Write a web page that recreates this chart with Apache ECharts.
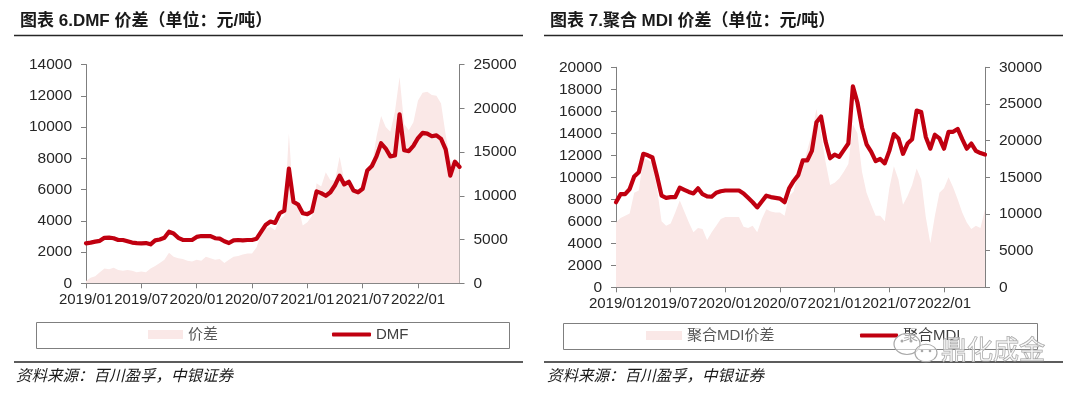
<!DOCTYPE html>
<html>
<head>
<meta charset="utf-8">
<script src="https://cdn.jsdelivr.net/npm/echarts@6/dist/echarts.min.js"></script>
<style>
  html, body { margin: 0; padding: 0; background: #ffffff; }
  #chart { width: 1080px; height: 393px; }
</style>
</head>
<body>
<div id="chart"></div>
<script>
var dates = [
  "2019/01/01","2019/01/15","2019/02/01","2019/02/15","2019/03/01","2019/03/15","2019/04/01","2019/04/15","2019/05/01","2019/05/15","2019/06/01","2019/06/15",
  "2019/07/01","2019/07/15","2019/08/01","2019/08/15","2019/09/01","2019/09/15","2019/10/01","2019/10/15","2019/11/01","2019/11/15","2019/12/01","2019/12/15",
  "2020/01/01","2020/01/15","2020/02/01","2020/02/15","2020/03/01","2020/03/15","2020/04/01","2020/04/15","2020/05/01","2020/05/15","2020/06/01","2020/06/15",
  "2020/07/01","2020/07/15","2020/08/01","2020/08/15","2020/09/01","2020/09/15","2020/10/01","2020/10/15","2020/11/01","2020/11/15","2020/12/01","2020/12/15",
  "2021/01/01","2021/01/15","2021/02/01","2021/02/15","2021/03/01","2021/03/15","2021/04/01","2021/04/15","2021/05/01","2021/05/15","2021/06/01","2021/06/15",
  "2021/07/01","2021/07/15","2021/08/01","2021/08/15","2021/09/01","2021/09/15","2021/10/01","2021/10/15","2021/11/01","2021/11/15","2021/12/01","2021/12/15",
  "2022/01/01","2022/01/15","2022/02/01","2022/02/15","2022/03/01","2022/03/15","2022/04/01","2022/04/15","2022/05/01","2022/05/15"
];

// Chart 6: DMF spread (left axis) and DMF price (right axis)
var dmfSpread = [
  150, 350, 450, 700, 950, 900, 1000, 850, 800, 850, 800, 700,
  750, 700, 950, 1100, 1300, 1500, 1950, 1700, 1600, 1550, 1450, 1400,
  1500, 1450, 1700, 1600, 1500, 1550, 1300, 1500, 1700, 1750, 1850, 1900,
  1900, 2300, 3200, 3500, 3600, 3400, 4100, 4300, 9600, 5100, 5000, 3700,
  3900, 4300, 6400, 6200, 7100, 6600, 6600, 8100, 6600, 6500, 5900, 5950,
  6000, 7400, 7500, 9400, 10700, 10000, 9700, 11000, 13200, 10200, 9800, 10300,
  11700, 12200, 12250, 12050, 12000, 11500, 9500, 7900, 7500, 7450
];
var dmfPrice = [
  4570, 4650, 4760, 4850, 5200, 5220, 5150, 4950, 4950, 4800, 4650, 4600,
  4570, 4600, 4450, 4900, 5000, 5200, 5900, 5700, 5200, 4950, 4950, 4950,
  5300, 5400, 5400, 5400, 5150, 5100, 4800, 4600, 4900, 4950, 4900, 4950,
  4950, 5100, 5900, 6700, 7050, 6900, 8000, 8300, 13100, 9300, 9000, 8000,
  7900, 8200, 10500, 10300, 10000, 10400, 11200, 12300, 11300, 11600, 10600, 10400,
  10800, 12900, 13400, 14500, 16000, 15400, 14500, 14600, 19300, 15200, 15100, 15700,
  16600, 17200, 17100, 16800, 16900, 16500, 15300, 12300, 13900, 13300
];

// Chart 7: polymeric MDI spread (left axis) and price (right axis)
var mdiSpread = [
  5900, 6300, 6500, 6700, 8600, 8800, 11700, 11600, 11300, 9000, 6000, 5600,
  5800, 6800, 7900, 6900, 5900, 5000, 5400, 5300, 4300, 5000, 5600, 6200,
  6400, 6400, 6400, 6400, 5500, 5400, 5600, 5000, 6200, 7100, 6900, 6800,
  6800, 6500, 8300, 8700, 10500, 11000, 12500, 14000, 16200, 14000, 11400, 9300,
  9500, 9900, 10500, 11200, 14800, 14000, 10500, 8600, 7500, 6500, 6500, 6000,
  9000, 11000, 9800, 7500, 8300, 9300, 10800, 9800, 6400, 4000, 6500, 8600,
  9000, 10000, 9100, 8000, 6800, 5900, 5300, 5600, 5400, 7100
];
var mdiPrice = [
  11600, 12700, 12700, 13400, 15100, 15700, 18200, 18000, 17700, 15200, 12500, 12200,
  12300, 12300, 13600, 13300, 13000, 12800, 13500, 12700, 12400, 12350, 12900, 13100,
  13200, 13200, 13200, 13200, 12800, 12200, 11600, 10900, 11700, 12500, 12300, 12200,
  12100, 11600, 13500, 14500, 15300, 17300, 17300, 18600, 22500, 23300, 19900, 17600,
  18100, 17800, 18700, 19600, 27400, 25200, 21800, 19500, 18500, 17200, 17500, 16900,
  18600, 20900, 20300, 18200, 19600, 20200, 24100, 23900, 20500, 18900, 20800, 20300,
  18900, 21200, 21200, 21600, 20200, 18900, 19600, 18600, 18300, 18100
];

var titles = ["图表 6.DMF 价差（单位：元/吨）", "图表 7.聚合 MDI 价差（单位：元/吨）"];
var legendNames = ["价差", "DMF", "聚合MDI价差", "聚合MDI"];
var sourceText = "资料来源：百川盈孚，中银证券";

// ---- styling ----
var LINE_RED = "#C00010";
var AREA_PINK = "#FAE8E7";
var AXIS_GRAY = "#7f7f7f";
var LABEL_COLOR = "#262626";
var FONT_LATIN = "'Liberation Sans', Arial, 'Noto Sans CJK SC', sans-serif";

function showTick(index, value) {
  return value.slice(5) === "01/01" || value.slice(5) === "07/01";
}

function makeX(gridIndex) {
  return {
    gridIndex: gridIndex,
    type: "category",
    data: dates,
    boundaryGap: false,
    axisLine: { show: true, lineStyle: { color: AXIS_GRAY, width: 1 } },
    axisTick: { show: true, interval: showTick, length: 5, lineStyle: { color: AXIS_GRAY } },
    axisLabel: {
      interval: showTick,
      showMinLabel: true,
      hideOverlap: false,
      formatter: function (v) { return v.slice(0, 7); },
      color: LABEL_COLOR, fontSize: 15, fontFamily: FONT_LATIN, margin: 9
    },
    splitLine: { show: false }
  };
}

function makeY(gridIndex, position, max, interval) {
  return {
    gridIndex: gridIndex,
    type: "value",
    position: position,
    min: 0, max: max, interval: interval,
    axisLine: { show: true, lineStyle: { color: AXIS_GRAY, width: 1 } },
    axisTick: { show: true, length: 5, lineStyle: { color: AXIS_GRAY } },
    axisLabel: {
      color: LABEL_COLOR, fontSize: 15.5, fontFamily: FONT_LATIN, margin: 14,
      formatter: function (v) { return String(v); }
    },
    splitLine: { show: false }
  };
}

function areaSeries(name, xi, yi, data) {
  return {
    name: name, type: "line", xAxisIndex: xi, yAxisIndex: yi, data: data,
    symbol: "none", showSymbol: false, silent: true,
    lineStyle: { width: 0, opacity: 0 },
    itemStyle: { color: AREA_PINK },
    areaStyle: { color: AREA_PINK, opacity: 1 },
    z: 1, animation: false
  };
}

function lineSeries(name, xi, yi, data) {
  return {
    name: name, type: "line", xAxisIndex: xi, yAxisIndex: yi, data: data,
    symbol: "none", showSymbol: false, silent: true,
    lineStyle: { width: 4.2, color: LINE_RED, join: "round", cap: "round" },
    itemStyle: { color: LINE_RED },
    z: 3, animation: false
  };
}

function legendItem(name, icon, left, top, w, h, color) {
  return {
    data: [{ name: name, icon: icon }],
    left: left, top: top, padding: 0,
    itemWidth: w, itemHeight: h, itemGap: 5,
    selectedMode: false,
    textStyle: { fontSize: 15, color: color, fontFamily: FONT_LATIN }
  };
}

var chart = echarts.init(document.getElementById("chart"), null, { renderer: "canvas" });

var option = {
  backgroundColor: "#ffffff",
  animation: false,
  grid: [
    { left: 86, right: 620.5, top: 64.5, bottom: 109.7 },
    { left: 616, right: 95, top: 67.3, bottom: 105.7 }
  ],
  xAxis: [makeX(0), makeX(1)],
  yAxis: [
    makeY(0, "left", 14000, 2000),
    makeY(0, "right", 25000, 5000),
    makeY(1, "left", 20000, 2000),
    makeY(1, "right", 30000, 5000)
  ],
  legend: [
    legendItem(legendNames[0], "rect", 148, 327, 35, 9, "#595959"),
    legendItem(legendNames[1], "roundRect", 332, 327, 39, 4, "#404040"),
    legendItem(legendNames[2], "rect", 646, 328, 36, 9, "#595959"),
    legendItem(legendNames[3], "roundRect", 860, 328, 38, 4, "#404040")
  ],
  series: [
    areaSeries(legendNames[0], 0, 0, dmfSpread),
    lineSeries(legendNames[1], 0, 1, dmfPrice),
    areaSeries(legendNames[2], 1, 2, mdiSpread),
    lineSeries(legendNames[3], 1, 3, mdiPrice)
  ],
  graphic: [
    // titles
    { type: "text", x: 20, y: 21, z: 10,
      style: { text: titles[0], fill: "#1a1a1a", fontSize: 17, fontWeight: "bold", fontFamily: FONT_LATIN, verticalAlign: "middle" } },
    { type: "text", x: 550, y: 21, z: 10,
      style: { text: titles[1], fill: "#1a1a1a", fontSize: 17, fontWeight: "bold", fontFamily: FONT_LATIN, verticalAlign: "middle" } },
    // top rules
    { type: "line", z: 10, shape: { x1: 14, y1: 35.5, x2: 523, y2: 35.5 }, style: { stroke: "#262626", lineWidth: 1.5 } },
    { type: "line", z: 10, shape: { x1: 544, y1: 35.5, x2: 1063, y2: 35.5 }, style: { stroke: "#262626", lineWidth: 1.5 } },
    // legend boxes
    { type: "rect", z: 0, shape: { x: 36.5, y: 322.5, width: 473, height: 26 }, style: { fill: "none", stroke: AXIS_GRAY, lineWidth: 1 } },
    { type: "rect", z: 0, shape: { x: 563.5, y: 323.5, width: 474, height: 26 }, style: { fill: "none", stroke: AXIS_GRAY, lineWidth: 1 } },
    // bottom rules
    { type: "line", z: 10, shape: { x1: 14, y1: 362, x2: 523, y2: 362 }, style: { stroke: "#262626", lineWidth: 1.5 } },
    { type: "line", z: 10, shape: { x1: 544, y1: 362, x2: 1063, y2: 362 }, style: { stroke: "#262626", lineWidth: 1.5 } },
    // sources
    { type: "text", x: 16, y: 377, z: 10,
      style: { text: sourceText, fill: "#1a1a1a", fontSize: 15.5, fontStyle: "italic", fontFamily: FONT_LATIN, verticalAlign: "middle" } },
    { type: "text", x: 547, y: 377, z: 10,
      style: { text: sourceText, fill: "#1a1a1a", fontSize: 15.5, fontStyle: "italic", fontFamily: FONT_LATIN, verticalAlign: "middle" } },
    // watermark (WeChat-style bubbles + name)
    { type: "circle", z: 20, x: 907, y: 344, scaleY: 0.8, shape: { cx: 0, cy: 0, r: 13 },
      style: { fill: "rgba(255,255,255,0.55)", stroke: "#a8a8a8", lineWidth: 1.2 } },
    { type: "circle", z: 21, x: 926, y: 353, scaleY: 0.8, shape: { cx: 0, cy: 0, r: 11 },
      style: { fill: "rgba(255,255,255,0.55)", stroke: "#a8a8a8", lineWidth: 1.2 } },
    { type: "circle", z: 22, shape: { cx: 902, cy: 341, r: 1.5 }, style: { fill: "#a8a8a8" } },
    { type: "circle", z: 22, shape: { cx: 911, cy: 341, r: 1.5 }, style: { fill: "#a8a8a8" } },
    { type: "circle", z: 22, shape: { cx: 922, cy: 351, r: 1.3 }, style: { fill: "#a8a8a8" } },
    { type: "circle", z: 22, shape: { cx: 930, cy: 351, r: 1.3 }, style: { fill: "#a8a8a8" } },
    { type: "text", x: 941, y: 349, z: 22,
      style: { text: "鼎化成金", fill: "rgba(255,255,255,0.5)", stroke: "#a0a0a0", lineWidth: 1,
               fontSize: 26, fontFamily: "'Noto Sans CJK SC', sans-serif", verticalAlign: "middle" } }
  ]
};

chart.setOption(option);
</script>
</body>
</html>
